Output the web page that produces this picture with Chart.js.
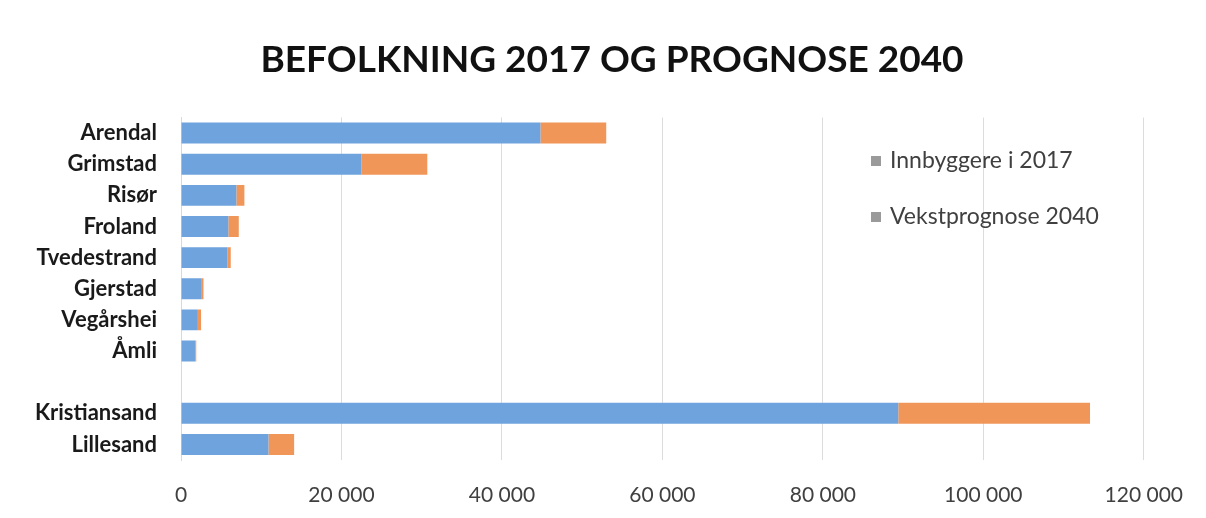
<!DOCTYPE html>
<html>
<head>
<meta charset="utf-8">
<script src="https://cdn.jsdelivr.net/npm/chart.js@4/dist/chart.umd.min.js"></script>
<style>
html,body{margin:0;padding:0;background:#fff;}
#wrap{width:1206px;height:518px;}
</style>
</head>
<body>
<div id="wrap"><canvas id="c" width="1206" height="518"></canvas></div>
<script>
const categories = ['Arendal','Grimstad','Risør','Froland','Tvedestrand','Gjerstad','Vegårshei','Åmli','','Kristiansand','Lillesand'];
const inhabitants2017 = [44800, 22500, 6900, 5900, 5800, 2500, 2100, 1800, null, 89400, 10900];
const growth2040 = [8200, 8200, 1000, 1300, 400, 300, 400, 100, null, 23900, 3200];
const seriesNames = ['Innbyggere i 2017', 'Vekstprognose 2040'];
const xTicks = [0, 20000, 40000, 60000, 80000, 100000, 120000];
const titleText = 'BEFOLKNING 2017 OG PROGNOSE 2040';

function fmt(v){ return String(v).replace(/\B(?=(\d{3})+(?!\d))/g, ' '); }

const titlePlugin = {
  id: 'topTitle',
  afterDraw(chart){
    const ctx = chart.ctx;
    ctx.save();
    ctx.font = 'bold 37px Lato';
    ctx.fillStyle = '#111';
    ctx.textAlign = 'center';
    ctx.textBaseline = 'middle';
    ctx.fillText(titleText, 612, 60);
    ctx.restore();
  }
};

const legendPlugin = {
  id: 'insideLegend',
  afterDraw(chart){
    const ctx = chart.ctx, a = chart.chartArea;
    ctx.save();
    ctx.font = '23px Lato';
    ctx.textBaseline = 'middle';
    const ys = [161, 217];
    chart.data.datasets.forEach((ds, i) => {
      const x = a.left + 690;
      const y = ys[i];
      ctx.fillStyle = '#9a9a9a';
      ctx.fillRect(x, y - 5, 10, 10);
      ctx.fillStyle = '#404040';
      ctx.fillText(ds.label, x + 19, y);
    });
    ctx.restore();
  }
};

new Chart(document.getElementById('c'), {
  type: 'bar',
  data: {
    labels: categories,
    datasets: [
      { label: seriesNames[0], data: inhabitants2017, backgroundColor: '#6ea3dd' },
      { label: seriesNames[1], data: growth2040, backgroundColor: '#f09658' }
    ]
  },
  options: {
    indexAxis: 'y',
    responsive: false,
    animation: false,
    devicePixelRatio: 1,
    categoryPercentage: 0.8,
    barPercentage: 0.84,
    layout: { padding: { left: 0, right: 59, top: 117.5, bottom: 0 } },
    plugins: {
      legend: { display: false },
      tooltip: { enabled: false },
      title: { display: false }
    },
    scales: {
      x: {
        stacked: true,
        min: 0, max: 120000,
        afterBuildTicks(scale){ scale.ticks = xTicks.map(v => ({value: v})); },
        afterFit(scale){ scale.height = 58; },
        ticks: {
          padding: 23,
          color: '#404040',
          font: { family: 'Lato', size: 21 },
          callback: v => fmt(v)
        },
        grid: { color: '#dcdcdc', drawTicks: false },
        border: { display: false }
      },
      y: {
        stacked: true,
        afterFit(scale){ scale.width = 181; },
        ticks: {
          padding: 24,
          color: '#1a1a1a',
          font: { family: 'Lato', size: 22, weight: 'bold' }
        },
        grid: { display: false, drawTicks: false },
        border: { display: true, color: '#d9d9d9' }
      }
    }
  },
  plugins: [titlePlugin, legendPlugin]
});
</script>
</body>
</html>
